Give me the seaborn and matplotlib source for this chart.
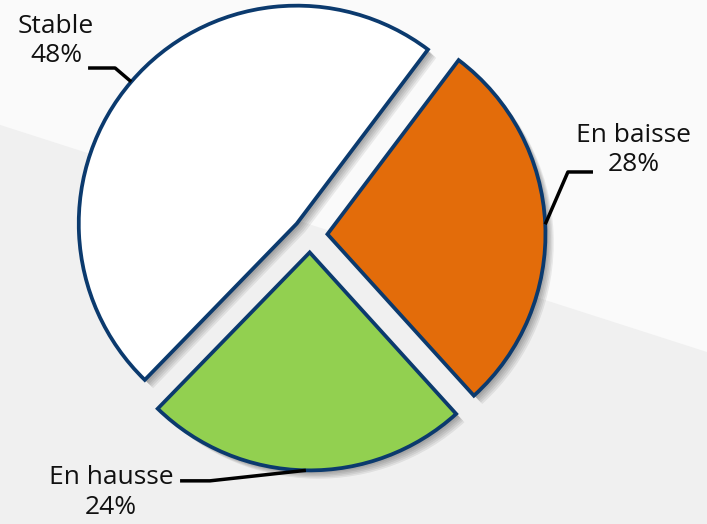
import numpy as np
import matplotlib
matplotlib.use('Agg')
import matplotlib.pyplot as plt
import matplotlib.patheffects as pe
from matplotlib.patches import Polygon
import seaborn as sns

# data
labels = ['Stable', 'En hausse', 'En baisse']
shares = [48, 24, 28]
colors = ['#ffffff', '#92d050', '#e36c0a']

sns.set_style('white')
plt.rcParams['font.family'] = ['Open Sans', 'DejaVu Sans']

fig = plt.figure(figsize=(7.07, 5.24), dpi=100)
ax = fig.add_axes([0, 0, 1, 1])

# background: light top, slightly darker grey under the diagonal
xl, xr = -1.422, 1.821
yb, yt = -1.326, 1.078
ax.add_patch(Polygon([[xl, yb], [xl, yt], [xr, yt], [xr, yb]], closed=True,
                     facecolor='#fafafa', edgecolor='none', zorder=0))
ax.add_patch(Polygon([[xl, 0.505], [xr, -0.537], [xr, yb], [xl, yb]], closed=True,
                     facecolor='#f0f0f0', edgecolor='none', zorder=0))

explode = 0.08
wedges, _ = ax.pie(shares, colors=colors, startangle=53, counterclock=True,
                   explode=[explode] * len(shares), radius=1.0,
                   wedgeprops=dict(edgecolor='#0b3a6e', linewidth=2.7))

# soft drop shadow built from a few stacked offsets
shadow = [pe.SimplePatchShadow(offset=(d, -d), shadow_rgbFace='k', alpha=0.07)
          for d in (1, 2, 3, 4, 5, 6)]
for w in wedges:
    w.set_zorder(2)
    w.set_path_effects(shadow + [pe.Normal()])

# leader lines and labels (elbow, line end, text centre)
layout = {
    'Stable': ((-0.894, 0.766), (-1.018, 0.766), (-1.165, 0.89)),
    'En hausse': ((-0.459, -1.128), (-0.596, -1.128), (-0.913, -1.18)),
    'En baisse': ((1.183, 0.289), (1.298, 0.289), (1.486, 0.39)),
}
for w, lab, val in zip(wedges, labels, shares):
    mid = np.deg2rad((w.theta1 + w.theta2) / 2)
    cx, cy = w.center
    ax0, ay0 = cx + np.cos(mid), cy + np.sin(mid)
    elbow, end, txt = layout[lab]
    ax.plot([ax0, elbow[0], end[0]], [ay0, elbow[1], end[1]], color='black',
            lw=2.5, zorder=3, solid_capstyle='butt')
    ax.text(txt[0], txt[1], f'{lab}\n{val}%', ha='center', va='center',
            fontsize=19, color='#111111', linespacing=1.25, zorder=4)

ax.set_xlim(xl, xr)
ax.set_ylim(yb, yt)
ax.set_aspect('auto')
ax.axis('off')

fig.savefig('out.png', dpi=100)
